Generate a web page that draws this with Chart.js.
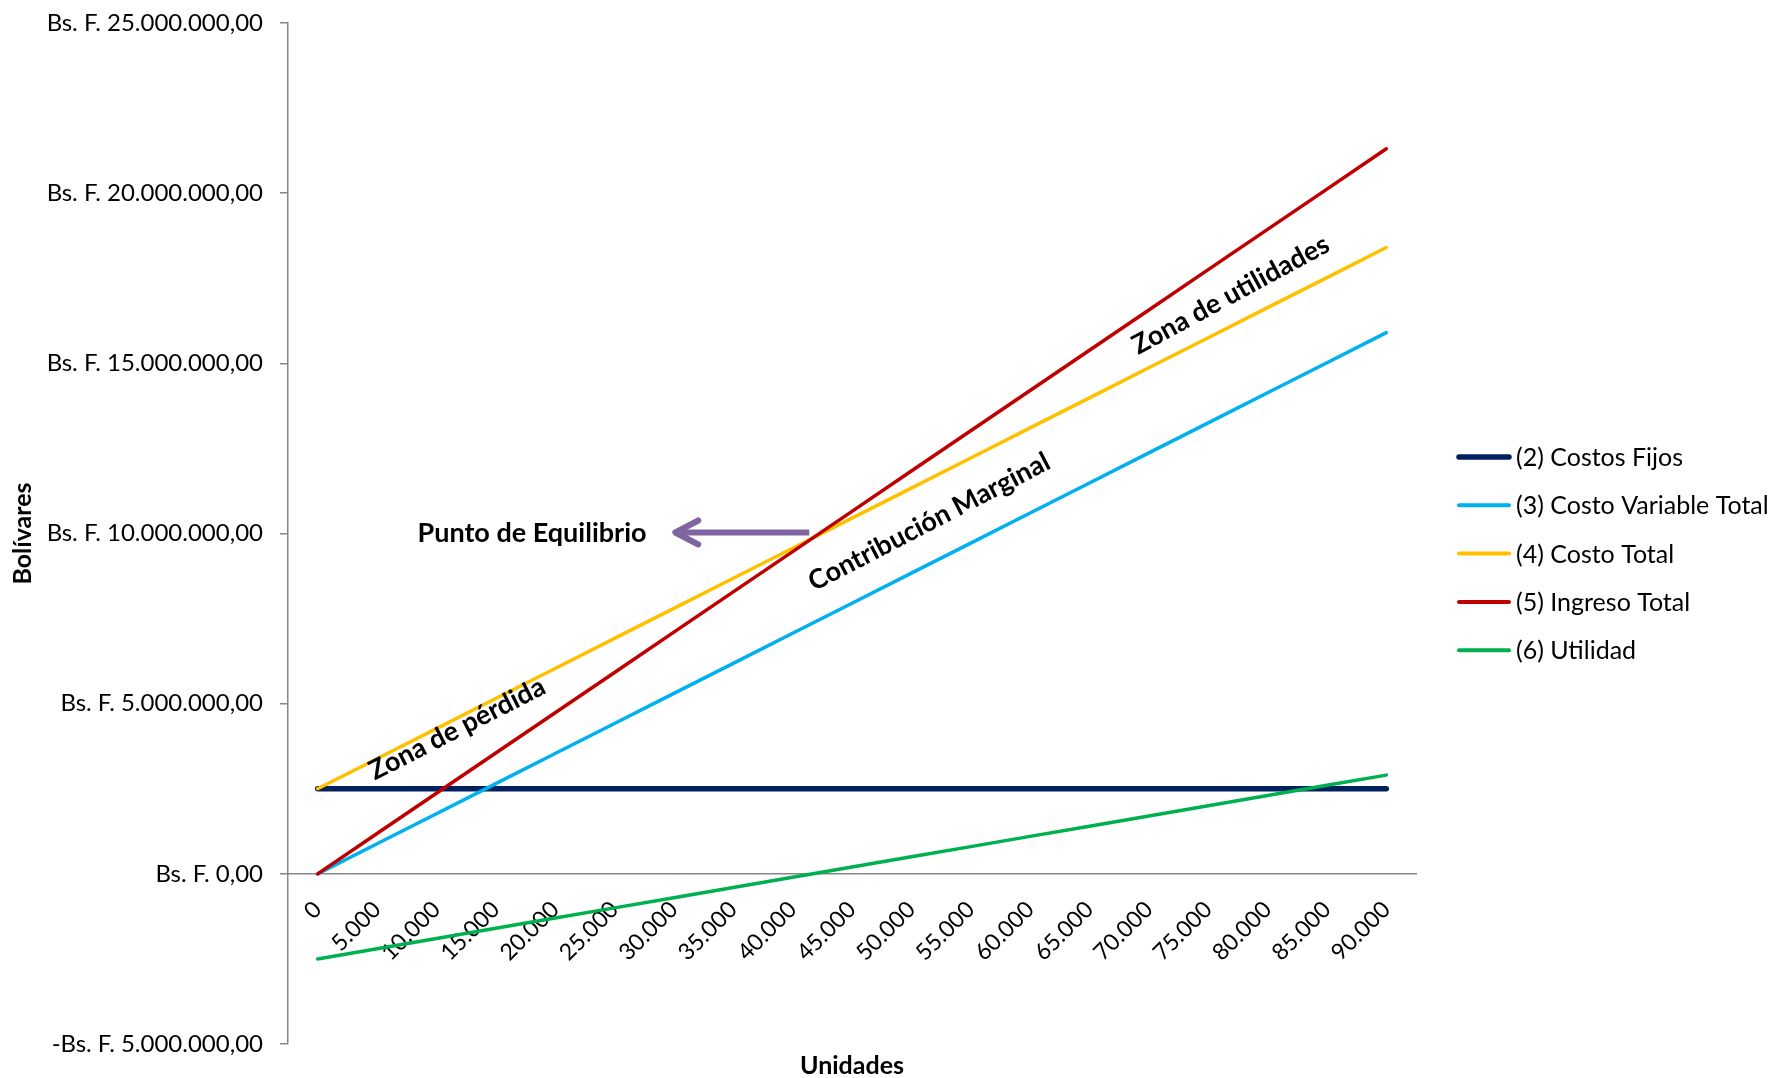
<!DOCTYPE html>
<html>
<head>
<meta charset="utf-8">
<script src="https://cdn.jsdelivr.net/npm/chart.js@4.4.1/dist/chart.umd.min.js"></script>
<style>
  html, body { margin: 0; padding: 0; background: #ffffff; }
  #wrap { width: 1774px; height: 1078px; position: relative; }
  canvas { display: block; }
</style>
</head>
<body>
<div id="wrap"><canvas id="c" width="1774" height="1078" style="width:1774px;height:1078px"></canvas></div>
<script>
// ---------- DATA ----------
const categories = ['0','5.000','10.000','15.000','20.000','25.000','30.000','35.000','40.000','45.000',
  '50.000','55.000','60.000','65.000','70.000','75.000','80.000','85.000','90.000'];

const costosFijos = [2500000,2500000,2500000,2500000,2500000,2500000,2500000,2500000,2500000,2500000,
  2500000,2500000,2500000,2500000,2500000,2500000,2500000,2500000,2500000];

const costoVariableTotal = [0,883000,1767000,2650000,3534000,4417000,5301000,6184000,7068000,7951000,
  8835000,9718000,10602000,11485000,12369000,13252000,14136000,15019000,15903000];

const costoTotal = [2500000,3383000,4267000,5150000,6034000,6917000,7801000,8684000,9568000,10451000,
  11335000,12218000,13102000,13985000,14869000,15752000,16636000,17519000,18403000];

const ingresoTotal = [0,1184000,2367000,3550000,4734000,5917000,7101000,8284000,9468000,10651000,
  11835000,13018000,14202000,15385000,16569000,17752000,18936000,20119000,21303000];

const utilidad = [-2500000,-2200000,-1900000,-1600000,-1300000,-1000000,-700000,-400000,-100000,200000,
  500000,800000,1100000,1400000,1700000,2000000,2300000,2600000,2900000];

const yMin = -5000000;
const yMax = 25000000;
const yStep = 5000000;

const seriesLabels = ['(2) Costos Fijos','(3) Costo Variable Total','(4) Costo Total','(5) Ingreso Total','(6) Utilidad'];

// ---------- STYLE / ANNOTATIONS ----------
const FONT = 'Lato, "Open Sans", sans-serif';
const colors = { fijos:'#002060', variable:'#00B0F0', total:'#FFC000', ingreso:'#C00000', utilidad:'#00B050', axis:'#868686', arrow:'#8064A2' };

// annotation anchors expressed in chart units (category index, value)
const notes = [
  { text: 'Zona de utilidades',    x: 15.38, y: 17010000, angle: -28.5 },
  { text: 'Contribución Marginal', x: 10.30, y: 10340000, angle: -27.5 },
  { text: 'Zona de pérdida',       x: 2.35,  y: 4260000,  angle: -27.0 },
  { text: 'Punto de Equilibrio',   x: 3.61,  y: 10020000, angle: 0 }
];
const arrowNote = { fromX: 8.28, toX: 5.99, y: 10030000 };

function fmtBs(v) {
  const neg = v < 0;
  const s = Math.round(Math.abs(v)).toString().replace(/\B(?=(\d{3})+(?!\d))/g, '.');
  return (neg ? '-' : '') + 'Bs. F. ' + s + ',00';
}

const overlayPlugin = {
  id: 'overlay',
  afterDatasetsDraw(chart) {
    const ctx = chart.ctx;
    const xs = chart.scales.x, ys = chart.scales.y;
    ctx.save();
    // arrow
    const ax1 = xs.getPixelForValue(arrowNote.fromX);
    const ax2 = xs.getPixelForValue(arrowNote.toX);
    const ay = ys.getPixelForValue(arrowNote.y);
    ctx.strokeStyle = colors.arrow;
    ctx.lineWidth = 6;
    ctx.lineCap = 'butt';
    ctx.beginPath(); ctx.moveTo(ax1, ay); ctx.lineTo(ax2 + 3, ay); ctx.stroke();
    ctx.lineCap = 'round'; ctx.lineJoin = 'round';
    ctx.beginPath();
    ctx.moveTo(ax2 + 25, ay - 12);
    ctx.lineTo(ax2 + 2, ay);
    ctx.lineTo(ax2 + 25, ay + 12);
    ctx.stroke();
    // texts
    ctx.fillStyle = '#000';
    ctx.textAlign = 'center';
    ctx.textBaseline = 'middle';
    notes.forEach(n => {
      const px = xs.getPixelForValue(n.x);
      const py = ys.getPixelForValue(n.y);
      ctx.save();
      ctx.translate(px, py);
      ctx.rotate(n.angle * Math.PI / 180);
      ctx.font = 'bold 27px ' + FONT;
      ctx.fillText(n.text, 0, 0);
      ctx.restore();
    });
    ctx.restore();
  },
  afterDraw(chart) {
    // legend
    const ctx = chart.ctx;
    const area = chart.chartArea;
    const x0 = area.right + 41;
    let y = 457;
    ctx.save();
    ctx.textAlign = 'left';
    ctx.textBaseline = 'middle';
    ctx.font = '25px ' + FONT;
    chart.data.datasets.forEach(ds => {
      ctx.strokeStyle = ds.borderColor;
      ctx.lineWidth = ds.legendWidth;
      ctx.lineCap = 'round';
      ctx.beginPath(); ctx.moveTo(x0 + 2, y); ctx.lineTo(x0 + 52, y); ctx.stroke();
      ctx.fillStyle = '#000';
      ctx.fillText(ds.label, x0 + 59, y + 1);
      y += 48.3;
    });
    ctx.restore();
  }
};

function mk(label, data, color, width, order, legendWidth) {
  return { label, data, borderColor: color, backgroundColor: color, borderWidth: width,
    pointRadius: 0, pointHoverRadius: 0, tension: 0, fill: false, order,
    borderCapStyle: 'round', borderJoinStyle: 'round', legendWidth };
}

new Chart(document.getElementById('c'), {
  type: 'line',
  data: {
    labels: categories,
    datasets: [
      mk(seriesLabels[0], costosFijos, colors.fijos, 5.5, 5, 5.5),
      mk(seriesLabels[1], costoVariableTotal, colors.variable, 3.5, 4, 4),
      mk(seriesLabels[2], costoTotal, colors.total, 3.5, 3, 4),
      mk(seriesLabels[3], ingresoTotal, colors.ingreso, 3.5, 2, 4),
      mk(seriesLabels[4], utilidad, colors.utilidad, 3.5, 1, 4)
    ]
  },
  options: {
    responsive: false,
    animation: false,
    devicePixelRatio: 1,
    layout: { padding: { top: 23, right: 358, bottom: 0, left: 0 } },
    plugins: {
      legend: { display: false },
      tooltip: { enabled: false },
      title: {
        display: true, text: 'Unidades', position: 'bottom', fullSize: false,
        color: '#000', font: { family: FONT, size: 25, weight: 'bold', lineHeight: 1.0 },
        padding: { top: 9, bottom: 0 }
      }
    },
    scales: {
      x: {
        type: 'category',
        position: { y: 0 },
        offset: true,
        grid: { display: false, drawTicks: false, drawOnChartArea: false },
        border: { display: true, color: colors.axis, width: 1.5 },
        ticks: {
          autoSkip: false, minRotation: 45, maxRotation: 45, padding: 22,
          color: '#000', font: { family: FONT, size: 23 }
        }
      },
      y: {
        min: yMin, max: yMax,
        grid: { display: true, drawOnChartArea: false, drawTicks: true, tickLength: 8, color: colors.axis, lineWidth: 1.5 },
        border: { display: true, color: colors.axis, width: 1.5 },
        ticks: {
          stepSize: yStep, padding: 17, color: '#000',
          font: { family: FONT, size: 24 },
          callback: (v) => fmtBs(v)
        },
        title: {
          display: true, text: 'Bolívares', color: '#000',
          font: { family: FONT, size: 25, weight: 'bold' },
          padding: { top: 8, bottom: 0 }
        },
        afterFit: (s) => { s.width = 288; s.paddingTop = 0; s.paddingBottom = 0; }
      }
    }
  },
  plugins: [overlayPlugin]
});
</script>
</body>
</html>
